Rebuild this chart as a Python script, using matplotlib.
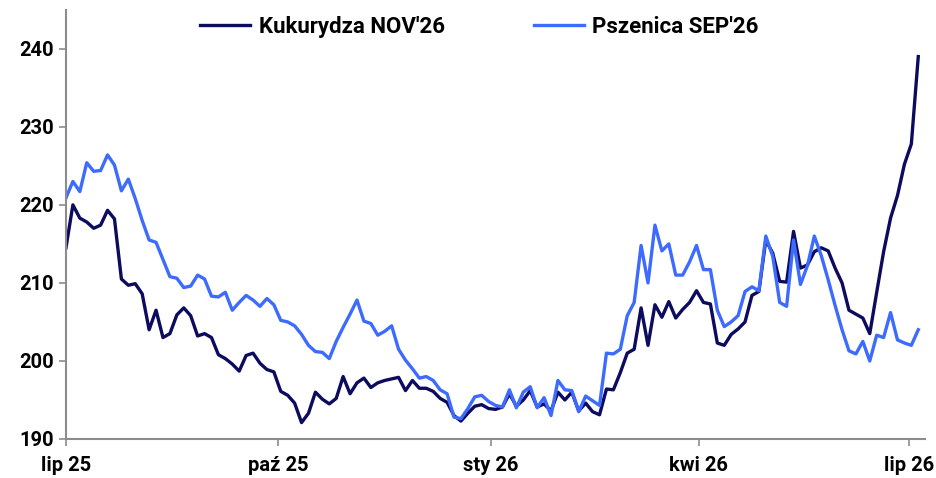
import numpy as np
import pandas as pd
import matplotlib
matplotlib.use("Agg")
import matplotlib.pyplot as plt
import matplotlib.dates as mdates

# data, one point every 3 days from 1 Jul 2025
start = "2025-07-01"

kukurydza = [
    214.5, 220.0, 218.3, 217.8, 217.0, 217.4, 219.3, 218.2, 210.5, 209.7,
    209.9, 208.6, 204.0, 206.5, 203.0, 203.5, 205.9, 206.8, 205.8, 203.2,
    203.5, 203.0, 200.8, 200.3, 199.6, 198.7, 200.7, 201.0, 199.7, 198.9,
    198.6, 196.1, 195.6, 194.6, 192.1, 193.3, 196.0, 195.1, 194.5, 195.2,
    198.0, 195.8, 197.2, 197.8, 196.6, 197.2, 197.5, 197.7, 197.9, 196.2,
    197.5, 196.5, 196.5, 196.1, 195.2, 194.7, 193.0, 192.3, 193.3, 194.2,
    194.4, 193.9, 193.8, 194.1, 195.8, 194.2, 195.0, 196.2, 194.1, 194.5,
    193.6, 196.0, 195.0, 196.0, 193.6, 194.6, 193.5, 193.1, 196.4, 196.3,
    198.5, 201.0, 201.5, 206.8, 202.0, 207.2, 205.6, 207.6, 205.5, 206.6,
    207.5, 209.0, 207.5, 207.3, 202.3, 202.0, 203.4, 204.1, 205.0, 208.4,
    208.9, 215.5, 213.8, 210.2, 210.1, 216.6, 211.9, 212.3, 214.0, 214.5,
    214.1, 211.9, 210.0, 206.5, 206.0, 205.5, 203.5, 208.8, 214.0, 218.3,
    221.2, 225.2, 227.8, 239.0,
]

pszenica = [
    220.9, 223.0, 221.7, 225.4, 224.3, 224.4, 226.4, 225.1, 221.8, 223.3,
    220.8, 218.0, 215.5, 215.2, 213.0, 210.8, 210.6, 209.4, 209.6, 211.0,
    210.5, 208.3, 208.2, 208.8, 206.5, 207.5, 208.4, 207.8, 207.0, 208.0,
    207.2, 205.2, 205.0, 204.5, 203.4, 202.0, 201.2, 201.1, 200.3, 202.5,
    204.3, 206.0, 207.8, 205.1, 204.8, 203.3, 203.8, 204.5, 201.5, 200.1,
    199.0, 197.8, 198.0, 197.5, 196.3, 195.8, 192.8, 192.6, 193.9, 195.4,
    195.6, 194.8, 194.3, 194.1, 196.3, 194.0, 196.0, 196.7, 194.0, 195.3,
    193.0, 197.5, 196.3, 196.2, 193.5, 195.5, 194.9, 194.3, 201.0, 200.9,
    201.5, 205.8, 207.5, 214.8, 210.0, 217.4, 214.1, 215.0, 211.0, 211.0,
    212.7, 214.8, 211.7, 211.7, 206.5, 204.4, 205.0, 205.8, 208.9, 209.5,
    209.0, 216.0, 213.4, 207.5, 207.0, 215.5, 209.8, 212.2, 216.0, 213.5,
    210.4, 207.1, 204.0, 201.3, 200.9, 202.5, 200.0, 203.3, 203.0, 206.2,
    202.7, 202.3, 202.0, 204.0,
]

dates = pd.date_range(start, periods=len(kukurydza), freq="3D")

tick_dates = pd.to_datetime(["2025-07-01", "2025-10-01", "2026-01-01", "2026-04-01", "2026-07-01"])
tick_labels = ["lip 25", "paź 25", "sty 26", "kwi 26", "lip 26"]
y_ticks = [190, 200, 210, 220, 230, 240]

plt.rcParams['font.family'] = ['Roboto', 'DejaVu Sans']

fig = plt.figure(figsize=(9.37, 4.78), dpi=100)
ax = fig.add_axes([0.0704, 0.0816, 0.917, 0.898])

ax.plot(dates, kukurydza, color="#0c0b5e", lw=2.4, label="Kukurydza NOV'26")
ax.plot(dates, pszenica, color="#3d6bff", lw=2.4, label="Pszenica SEP'26")

ax.set_xlim(pd.Timestamp("2025-07-01"), pd.Timestamp("2026-07-08"))
ax.set_ylim(190, 245)
ax.set_xticks(tick_dates)
ax.set_xticklabels(tick_labels)
ax.set_yticks(y_ticks)

for s in ["top", "right"]:
    ax.spines[s].set_visible(False)
for s in ["left", "bottom"]:
    ax.spines[s].set_color("#8c8c8c")
    ax.spines[s].set_linewidth(1.5)
ax.tick_params(axis="both", colors="#8c8c8c", width=1.2, length=5, labelsize=14.5,
               labelcolor="black")
ax.tick_params(axis="x", pad=7)
for lab in ax.get_xticklabels() + ax.get_yticklabels():
    lab.set_fontweight("bold")

leg = ax.legend(loc="center", bbox_to_anchor=(0.481, 0.96), ncol=2, frameon=False,
                fontsize=16, handlelength=2.25, columnspacing=4.0, handletextpad=0.4)
for t in leg.get_texts():
    t.set_fontweight("bold")

fig.savefig("out.png", dpi=100)
